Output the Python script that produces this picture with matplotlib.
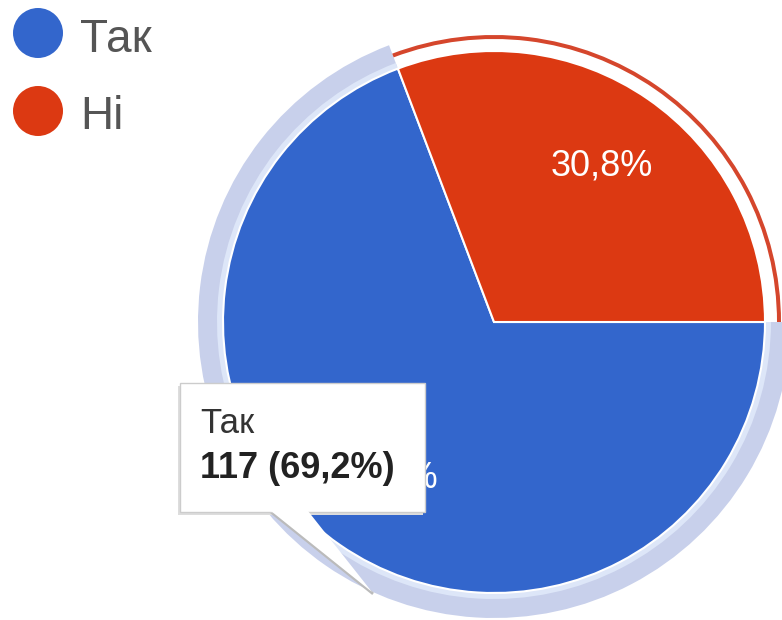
import matplotlib.pyplot as plt
from matplotlib.patches import Wedge, Circle, Rectangle, Polygon

plt.rcParams['font.family'] = ['Liberation Sans', 'DejaVu Sans']

# data
categories = ['Так', 'Ні']
counts = [117, 52]
colors = ['#3366cc', '#dc3912']
hover_index = 0  # the slice under the mouse (tooltip shown)

W, H = 782, 620
total = sum(counts)
start = 360.0 * counts[1] / total  # Так ends at 3 o'clock


def fmt_pct(p):
    return f'{p:.1f}%'.replace('.', ',')


fig = plt.figure(figsize=(W / 100, H / 100), dpi=100)
ax = fig.add_axes([0, 0, 1, 1])

cx, cy, r = 494, H - 322, 271

# hover halo around the highlighted slice, thin ring around the other one
ax.add_patch(Wedge((cx, cy), 296, start, 360, width=25, facecolor='#c8d0eb', edgecolor='none', zorder=0))
ax.add_patch(Wedge((cx, cy), 277, start, 360, width=6, facecolor='#dde6f8', edgecolor='none', zorder=0))
ax.add_patch(Wedge((cx, cy), 287, 0, start, width=4, facecolor='#d5462c', edgecolor='none', zorder=0))

wedges, texts, autotexts = ax.pie(
    counts, colors=colors, startangle=start, counterclock=True,
    center=(cx, cy), radius=r, autopct=fmt_pct, pctdistance=0.7,
    wedgeprops=dict(edgecolor='white', linewidth=1.5),
    textprops=dict(color='white', fontsize=26))

# legend
for i, (lab, col) in enumerate(zip(categories, colors)):
    yc = H - (33 + 78 * i)
    ax.add_patch(Circle((38, yc), 25, facecolor=col, edgecolor='none'))
    ax.text(80, H - (52 + 77 * i), lab, fontsize=33, color='#555555', va='baseline', ha='left')

# tooltip
x0, y0, x1, y1 = 180, 383, 425, 512
ax.add_patch(Rectangle((x0 - 2, H - y1 - 3), x1 - x0, y1 - y0, facecolor='#dddddd', edgecolor='none', zorder=5))
ax.add_patch(Rectangle((x0, H - y1), x1 - x0, y1 - y0, facecolor='white', edgecolor='#cccccc', linewidth=1, zorder=6))
ax.add_patch(Polygon([(271, H - 511), (308, H - 511), (372, H - 592)], closed=True,
                     facecolor='white', edgecolor='none', zorder=6))
ax.plot([271, 372], [H - 512, H - 593], color='#bbbbbb', linewidth=2, zorder=5.5)
ax.text(200, H - 433, categories[hover_index], fontsize=25, color='#333333', va='baseline', zorder=7)
ax.text(200, H - 478, f'{counts[hover_index]} ({fmt_pct(100 * counts[hover_index] / total)})',
        fontsize=26, fontweight='bold', color='#222222', va='baseline', zorder=7)

ax.set_xlim(0, W)
ax.set_ylim(0, H)
ax.set_aspect('equal')
ax.axis('off')

fig.savefig('out.png', dpi=100)
